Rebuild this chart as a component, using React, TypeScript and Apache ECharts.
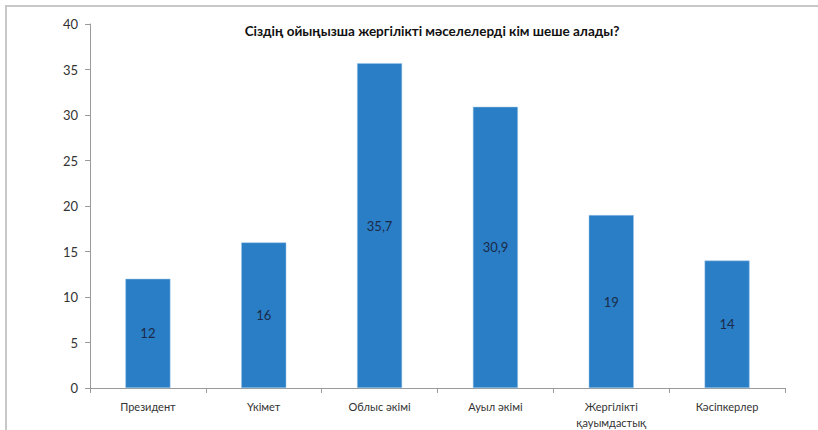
import React, { useEffect, useRef } from "react";
import * as echarts from "echarts";

const categories = ["Президент", "Үкімет", "Облыс әкімі", "Ауыл әкімі", "Жергілікті\nқауымдастық", "Кәсіпкерлер"];
const values = [12, 16, 35.7, 30.9, 19, 14];
const title = "Сіздің ойыңызша жергілікті мәселелерді кім шеше алады?";

export default function App() {
  const ref = useRef<HTMLDivElement>(null);
  useEffect(() => {
    const chart = echarts.init(ref.current!, undefined, { renderer: "svg" });
    chart.setOption({
      animation: false,
      backgroundColor: "#ffffff",
      textStyle: { fontFamily: "Lato" },
      title: {
        text: title,
        left: 427,
        top: 19,
        textAlign: "center",
        textStyle: { fontSize: 13.5, fontWeight: "bold", color: "#111", fontFamily: "Lato" },
      },
      grid: { left: 90, right: 33, top: 24, bottom: 37, containLabel: false },
      xAxis: {
        type: "category",
        data: categories,
        axisLine: { lineStyle: { color: "#9a9a9a", width: 1 } },
        axisTick: { show: true, length: 5, lineStyle: { color: "#9a9a9a" } },
        axisLabel: { color: "#333", fontSize: 11, margin: 10, lineHeight: 16, interval: 0, fontFamily: "Lato" },
      },
      yAxis: {
        type: "value",
        min: 0,
        max: 40,
        interval: 5,
        axisLine: { show: true, lineStyle: { color: "#9a9a9a", width: 1 } },
        axisTick: { show: true, length: 5, lineStyle: { color: "#9a9a9a" } },
        axisLabel: { color: "#333", fontSize: 13, margin: 12, fontFamily: "Lato" },
        splitLine: { show: false },
      },
      series: [
        {
          type: "bar",
          data: values,
          barWidth: 45,
          itemStyle: { color: "#2a7ec6", borderColor: "#9cc6ea", borderWidth: 0.5 },
          label: {
            show: true,
            position: "inside",
            color: "#1a2a48",
            fontSize: 13,
            fontFamily: "Lato",
            formatter: (p: any) => String(p.value).replace(".", ","),
          },
        },
      ],
      graphic: [
        { type: "line", shape: { x1: 5, y1: 6, x2: 818, y2: 6 }, style: { stroke: "#c8c8c8", lineWidth: 2 } },
        { type: "line", shape: { x1: 6, y1: 6, x2: 6, y2: 430 }, style: { stroke: "#c8c8c8", lineWidth: 2 } },
      ],
    });
    return () => chart.dispose();
  }, []);
  return <div ref={ref} style={{ position: "absolute", left: 0, top: 0, width: 818, height: 430 }} />;
}
